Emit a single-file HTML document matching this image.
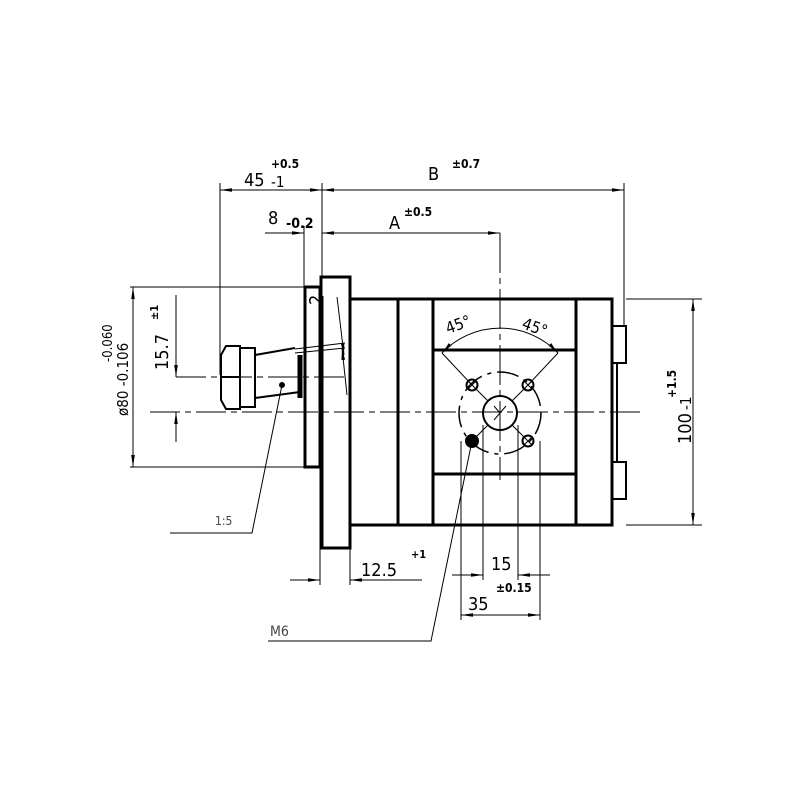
<!DOCTYPE html>
<html><head><style>html,body{margin:0;padding:0;background:#fff}svg{display:block}</style></head>
<body>
<svg width="800" height="800" viewBox="0 0 800 800" xmlns="http://www.w3.org/2000/svg" font-family="'DejaVu Sans Condensed','Liberation Sans Narrow','Liberation Sans',sans-serif">
<defs>
<marker id="a" viewBox="0 0 12 5" refX="12" refY="2.5" markerWidth="12" markerHeight="5" orient="auto-start-reverse" markerUnits="userSpaceOnUse"><path d="M0,0.7 L12,2.5 L0,4.3z" fill="#000"/></marker>
</defs>
<g stroke="#000" fill="none">
<g stroke-width="3">
<rect x="305" y="287" width="15" height="180"/>
<rect x="321" y="277" width="29" height="271"/>
<rect x="350" y="299" width="262" height="226"/>
<line x1="398" y1="299" x2="398" y2="525"/>
<line x1="433" y1="299" x2="433" y2="525"/>
<line x1="576" y1="299" x2="576" y2="525"/>
<line x1="433" y1="350" x2="576" y2="350"/>
<line x1="433" y1="474" x2="576" y2="474"/>
<line x1="322" y1="296" x2="322" y2="548"/>
</g>
<g stroke-width="2">
<rect x="612" y="326" width="14" height="37"/>
<rect x="612" y="462" width="14" height="37"/>
<line x1="617" y1="363" x2="617" y2="462"/>
<path d="M226,346 L240,346 L240,409 L226,409 L221,400 L221,355 Z"/>
<line x1="221" y1="377" x2="240" y2="377"/>
<rect x="240" y="348" width="15" height="59"/>
<path d="M255,355 L295,348 M255,398 L300,392 M255,355 L255,398"/>
<line x1="300" y1="355" x2="300" y2="398" stroke-width="5"/>
<circle cx="500" cy="413" r="17"/>
<circle cx="472" cy="385" r="5.5"/><circle cx="528" cy="385" r="5.5"/><circle cx="528" cy="441" r="5.5"/>
<circle cx="472" cy="441" r="6" fill="#000"/>
</g>
<g stroke-width="1">
<path d="M468,381 L476,389 M476,381 L468,389 M524,381 L532,389 M532,381 L524,389 M524,437 L532,445 M532,437 L524,445"/>
<path d="M476,389 L488,401 M524,389 L512,401 M524,437 L512,425 M476,437 L488,425"/>
<path d="M494,406 L500,413 L494,420 M500,413 L506,406"/>
<circle cx="500" cy="413" r="41" stroke-dasharray="22,6,4,6" stroke-width="1.5"/>
<path d="M442,353 A80,80 0 0 1 558,353" marker-start="url(#a)" marker-end="url(#a)"/>
<line x1="442" y1="353" x2="472" y2="385"/><line x1="558" y1="353" x2="528" y2="385"/>
<line x1="150" y1="412" x2="640" y2="412" stroke-dasharray="30,5,6,5"/>
<line x1="500" y1="233" x2="500" y2="480" stroke-dasharray="40,5,6,5"/>
<line x1="176" y1="377" x2="345" y2="377" stroke-dasharray="30,5,6,5"/>
<line x1="295" y1="349" x2="345" y2="343"/><line x1="295" y1="353" x2="345" y2="348"/>
<line x1="220" y1="183" x2="220" y2="375"/>
<line x1="322" y1="183" x2="322" y2="296"/>
<line x1="624" y1="183" x2="624" y2="326"/>
<line x1="304" y1="226" x2="304" y2="287"/>
<line x1="130" y1="287" x2="305" y2="287"/>
<line x1="130" y1="467" x2="305" y2="467"/>
<line x1="626" y1="299" x2="702" y2="299"/>
<line x1="626" y1="525" x2="702" y2="525"/>
<line x1="320" y1="548" x2="320" y2="585"/><line x1="350" y1="548" x2="350" y2="585"/>
<line x1="461" y1="441" x2="461" y2="620"/><line x1="540" y1="441" x2="540" y2="620"/>
<line x1="483" y1="425" x2="483" y2="580"/><line x1="518" y1="425" x2="518" y2="580"/>
<line x1="220" y1="190" x2="322" y2="190" marker-start="url(#a)" marker-end="url(#a)"/>
<line x1="322" y1="190" x2="624" y2="190" marker-start="url(#a)" marker-end="url(#a)"/>
<line x1="265" y1="233" x2="304" y2="233" marker-end="url(#a)"/>
<line x1="322" y1="233" x2="500" y2="233" marker-start="url(#a)" marker-end="url(#a)"/>
<line x1="133" y1="287" x2="133" y2="467" marker-start="url(#a)" marker-end="url(#a)"/>
<line x1="176" y1="295" x2="176" y2="377" marker-end="url(#a)"/>
<line x1="176" y1="442" x2="176" y2="412" marker-end="url(#a)"/>
<line x1="693" y1="299" x2="693" y2="525" marker-start="url(#a)" marker-end="url(#a)"/>
<line x1="290" y1="580" x2="320" y2="580" marker-end="url(#a)"/>
<line x1="422" y1="580" x2="350" y2="580" marker-end="url(#a)"/>
<line x1="452" y1="575" x2="483" y2="575" marker-end="url(#a)"/>
<line x1="550" y1="575" x2="518" y2="575" marker-end="url(#a)"/>
<line x1="461" y1="615" x2="540" y2="615" marker-start="url(#a)" marker-end="url(#a)"/>
<line x1="337" y1="297" x2="344" y2="355" marker-end="url(#a)"/>
<line x1="347" y1="395" x2="342" y2="348" marker-end="url(#a)"/>
<path d="M472,441 L431,641 L268,641"/>
<path d="M282,385 L252,533 L170,533"/>
</g>
<circle cx="282" cy="385" r="2.5" fill="#000"/>
</g>
<g fill="#000">
<text x="244" y="186" font-size="18">45</text>
<text x="271" y="168" font-size="12" font-weight="bold">+0.5</text>
<text x="271" y="187" font-size="15">-1</text>
<text x="428" y="180" font-size="18">B</text>
<text x="452" y="168" font-size="12" font-weight="bold">±0.7</text>
<text x="268" y="224" font-size="18">8</text>
<text x="286" y="228" font-size="14" font-weight="bold">-0.2</text>
<text x="389" y="229" font-size="18">A</text>
<text x="404" y="216" font-size="12" font-weight="bold">±0.5</text>
<text transform="translate(322,305) rotate(-90)" font-size="18">2</text>
<text transform="translate(168,370) rotate(-90)" font-size="18">15.7</text>
<text transform="translate(158,320) rotate(-90)" font-size="11" font-weight="bold">±1</text>
<text transform="translate(128,416) rotate(-90)" font-size="15">ø80 -0.106</text>
<text transform="translate(112,362) rotate(-90)" font-size="13">-0.060</text>
<text transform="translate(691,444) rotate(-90)" font-size="18">100</text>
<text transform="translate(676,398) rotate(-90)" font-size="12" font-weight="bold">+1.5</text>
<text transform="translate(691,410) rotate(-90)" font-size="15">-1</text>
<text transform="translate(448,334) rotate(-20)" font-size="16">45°</text>
<text transform="translate(521,328) rotate(20)" font-size="16">45°</text>
<text x="361" y="576" font-size="18">12.5</text>
<text x="411" y="558" font-size="11" font-weight="bold">+1</text>
<text x="491" y="570" font-size="18">15</text>
<text x="496" y="592" font-size="12" font-weight="bold">±0.15</text>
<text x="468" y="610" font-size="18">35</text>
<text x="270" y="636" font-size="14" fill="#444">M6</text>
<text x="215" y="525" font-size="12" fill="#444">1:5</text>
</g>
</svg>
</body></html>
